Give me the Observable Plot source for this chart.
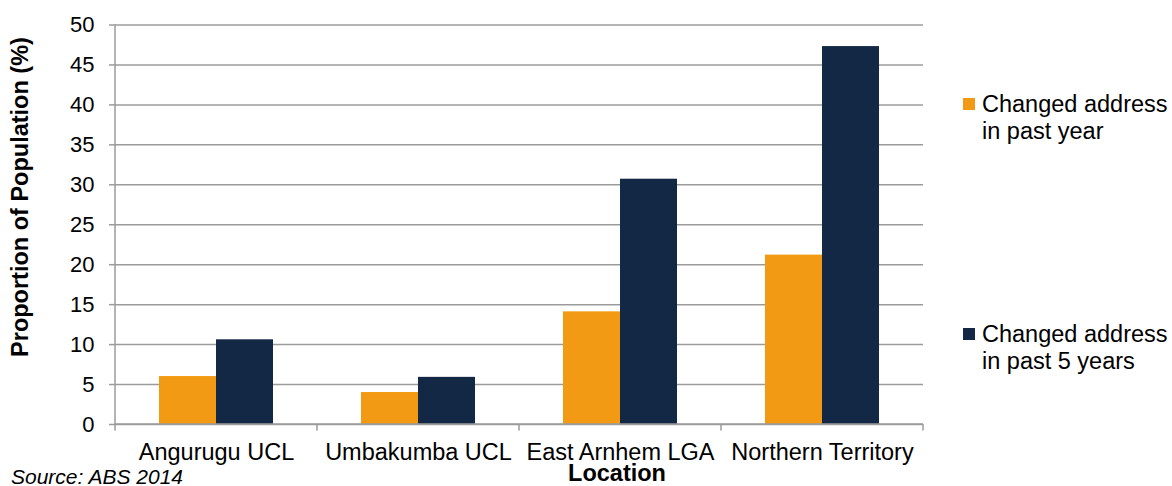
<!DOCTYPE html>
<html>
<head>
<meta charset="utf-8">
<script src="https://cdn.jsdelivr.net/npm/d3@7"></script>
<script src="https://cdn.jsdelivr.net/npm/@observablehq/plot@0.6"></script>
<style>
  html, body { margin: 0; padding: 0; background: #fff; }
  #chart { position: relative; width: 1172px; height: 486px; font-family: "Liberation Sans", Arial, sans-serif; color: #000; }
  #chart svg { position: absolute; left: 0; top: 0; }
  .overlay { position: absolute; white-space: nowrap; line-height: 1; }
  .ytitle { font-weight: bold; font-size: 23.5px; transform: translate(-50%, -50%) rotate(-90deg); }
  .xtitle { font-weight: bold; font-size: 23.5px; transform: translateX(-50%); }
  .source { font-style: italic; font-size: 21px; }
  .legend-item { position: absolute; font-size: 23.5px; line-height: 27px; }
  .legend-item .swatch { position: absolute; width: 12px; height: 12px; left: -19px; top: 7px; }
</style>
</head>
<body>
<div id="chart"></div>
<script>
// Proportion of population that changed address, by location (ABS 2014)
const locations = ["Angurugu UCL", "Umbakumba UCL", "East Arnhem LGA", "Northern Territory"];
const seriesNames = ["Changed address in past year", "Changed address in past 5 years"];
const seriesLegend = [["Changed address", "in past year"], ["Changed address", "in past 5 years"]];
const seriesColors = ["#F29A13", "#132844"];
const pastYear = [6.0, 4.0, 14.1, 21.2];
const past5Years = [10.6, 5.9, 30.7, 47.3];
const yTicks = [0, 5, 10, 15, 20, 25, 30, 35, 40, 45, 50];

const rows = [];
locations.forEach((loc, i) => {
  rows.push({location: loc, series: seriesNames[0], value: pastYear[i]});
  rows.push({location: loc, series: seriesNames[1], value: past5Years[i]});
});

const W = 1172, H = 486;
const axisGray = "#9b9b9b";

const plot = Plot.plot({
  width: W,
  height: H,
  marginLeft: 114,
  marginRight: 249,
  marginTop: 24.5,
  marginBottom: 62,
  style: {fontFamily: "Liberation Sans, Arial, sans-serif", background: "transparent", overflow: "visible"},
  fx: {domain: locations, padding: 0, label: null},
  x: {domain: seriesNames, paddingInner: 0, paddingOuter: 0.75, axis: null},
  y: {domain: [0, 50], ticks: yTicks, label: null},
  color: {domain: seriesNames, range: seriesColors},
  marks: [
    Plot.gridY(yTicks, {stroke: axisGray, strokeOpacity: 1, strokeWidth: 1.5}),
    Plot.axisY(yTicks, {anchor: "left", tickSize: 6, tickPadding: 15, stroke: axisGray, strokeWidth: 1.5, fontSize: 22, fill: "#000", label: null}),
    Plot.axisFx({anchor: "bottom", tickSize: 0, tickPadding: 19, fontSize: 23.5, fill: "#000", label: null}),
    Plot.barY(rows, {fx: "location", x: "series", y: "value", fill: "series"})
  ]
});

const chart = document.getElementById("chart");
chart.appendChild(plot);

// Axis lines and category boundary ticks from the plot's own scales
const fx = plot.scale("fx");
const y = plot.scale("y");
const svg = d3.select(plot);
const left = fx.apply(locations[0]);
const right = fx.apply(locations[locations.length - 1]) + fx.bandwidth;
const y0 = y.apply(0), yTop = y.apply(50);
const g = svg.append("g").attr("stroke", axisGray).attr("stroke-width", 1.5);
g.append("line").attr("x1", left).attr("x2", left).attr("y1", yTop).attr("y2", y0 + 6.5);
g.append("line").attr("x1", left).attr("x2", right).attr("y1", y0).attr("y2", y0);
const bounds = locations.map(d => fx.apply(d)).concat([right]);
g.selectAll("line.tick").data(bounds.slice(1)).join("line")
  .attr("class", "tick")
  .attr("x1", d => d).attr("x2", d => d)
  .attr("y1", y0).attr("y2", y0 + 6.5);

// Titles, source and legend
function addText(cls, text, css) {
  const el = document.createElement("div");
  el.className = "overlay " + cls;
  el.textContent = text;
  Object.assign(el.style, css);
  chart.appendChild(el);
  return el;
}
addText("ytitle", "Proportion of Population (%)", {left: "21px", top: "197px"});
addText("xtitle", "Location", {left: "617px", top: "462px"});
addText("source", "Source: ABS 2014", {left: "11px", top: "466px"});

const legendTops = [91, 321];
seriesNames.forEach((s, i) => {
  const item = document.createElement("div");
  item.className = "legend-item";
  item.style.left = "982px";
  item.style.top = legendTops[i] + "px";
  const sw = document.createElement("span");
  sw.className = "swatch";
  sw.style.background = seriesColors[i];
  item.appendChild(sw);
  seriesLegend[i].forEach(line => {
    const l = document.createElement("div");
    l.textContent = line;
    item.appendChild(l);
  });
  chart.appendChild(item);
});
</script>
</body>
</html>
